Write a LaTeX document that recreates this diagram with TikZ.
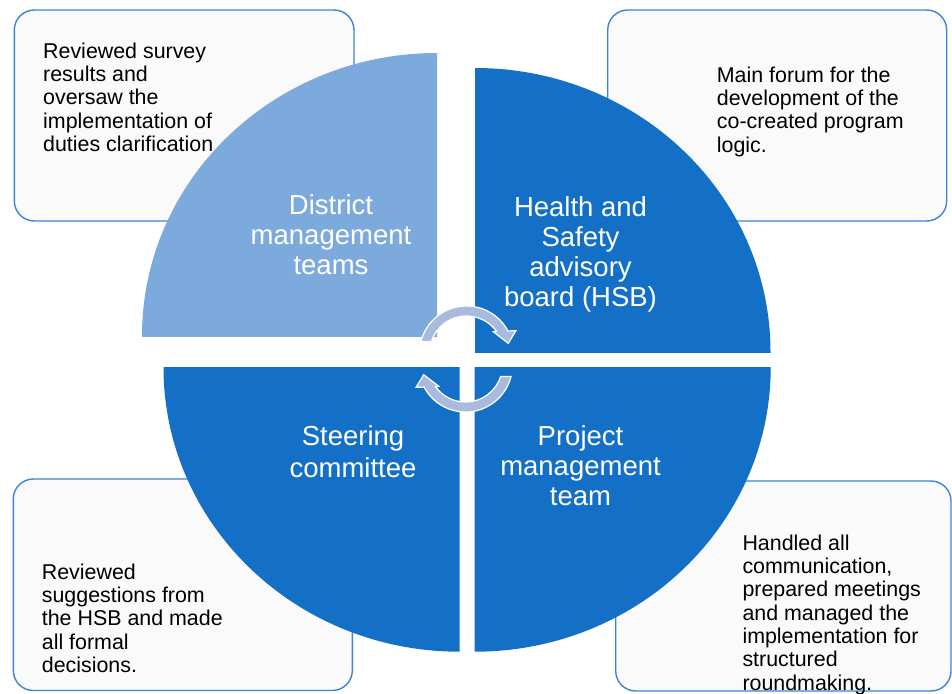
\documentclass[tikz,border=0pt]{standalone}
\usepackage{fontspec}
\setmainfont{Liberation Sans}
\definecolor{qlight}{HTML}{7DAADC}
\definecolor{qdark}{HTML}{1470C6}
\definecolor{boxfill}{HTML}{FAFAFA}
\definecolor{boxline}{HTML}{3D84D6}
\definecolor{arrowfill}{HTML}{AAB9DE}
\begin{document}
\begin{tikzpicture}[x=1pt,y=-1pt,
  infobox/.style={draw=boxline, fill=boxfill, line width=1.4pt, rounded corners=20pt},
  boxtext/.style={inner sep=0pt, anchor=north west, align=left, text=black,
    font=\fontsize{21.4}{23.3}\selectfont},
  quadtext/.style={inner sep=0pt, align=center, text=white,
    font=\fontsize{27.5}{30}\selectfont},
  cyclearrow/.style={fill=arrowfill, draw=white, line width=1.2pt, line join=miter}]
\useasboundingbox (0,0) rectangle (952,693);
\fill[white] (0,0) rectangle (952,693);

% info boxes
\draw[infobox] (14.3,10) rectangle (354,221);
\draw[infobox] (607.7,10) rectangle (946.7,221);
\draw[infobox] (13.3,479) rectangle (352.3,690.5);
\draw[infobox] (615.7,481) rectangle (951,691);

\node[boxtext] (t1) at (43,42.5) {Reviewed survey\\results and\\oversaw the\\implementation of\\duties clarification};
\node[boxtext] (t2) at (716.7,66.5) {Main forum for the\\development of the\\co-created program\\logic.};
\node[boxtext] (t3) at (41.7,563.5) {Reviewed\\suggestions from\\the HSB and made\\all formal\\decisions.};
\node[boxtext] (t4) at (742.3,534.5) {Handled all\\communication,\\prepared meetings\\and managed the\\implementation for\\structured\\roundmaking.};

% quadrants
\begin{scope}
  \clip (437,336) rectangle (120,30);
  \fill[qlight] (437,336) ellipse [x radius=295, y radius=283];
\end{scope}
\begin{scope}
  \clip (475,352) rectangle (800,30);
  \fill[qdark] (475,352) ellipse [x radius=295.5, y radius=284];
\end{scope}
\begin{scope}
  \clip (459.5,367.3) rectangle (120,680);
  \fill[qdark] (459.5,367.3) ellipse [x radius=296, y radius=284.4];
\end{scope}
\begin{scope}
  \clip (474.7,367.3) rectangle (800,680);
  \fill[qdark] (474.7,367.3) ellipse [x radius=296, y radius=284.4];
\end{scope}

\node[quadtext] (dmt) at (331,234.5) {District\\management\\teams};
\node[quadtext] (hsb) at (580.5,254) {Health and\\Safety\\advisory\\board (HSB)};
\node[quadtext, font=\fontsize{27.5}{32.5}\selectfont] (sc) at (353,451.5) {Steering\\committee};
\node[quadtext] (pmt) at (580.5,466) {Project\\management\\team};

% cycle arrows
\coordinate (topc) at (466.5,353);
\coordinate (botc) at (465.5,365);
\begin{scope}[shift={(topc)}]
  \path[cyclearrow] (194:47) arc[start angle=194, end angle=332, radius=47]
    -- (335.7:54.3) -- (347:42.9) -- (321.5:34.2) -- (324:37)
    arc[start angle=324, end angle=198, radius=37] -- cycle;
\end{scope}
\begin{scope}[shift={(botc)}, rotate=180]
  \path[cyclearrow] (194:47) arc[start angle=194, end angle=332, radius=47]
    -- (335.7:54.3) -- (347:42.9) -- (321.5:34.2) -- (324:37)
    arc[start angle=324, end angle=198, radius=37] -- cycle;
\end{scope}
\end{tikzpicture}
\end{document}
